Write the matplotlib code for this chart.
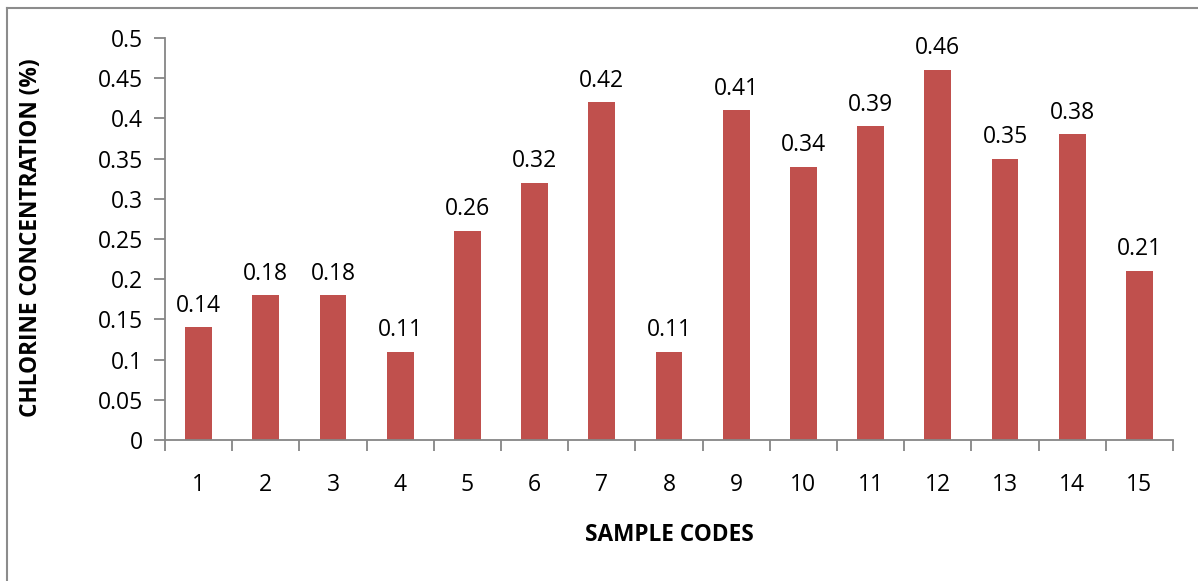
import matplotlib
matplotlib.use("Agg")
import matplotlib.pyplot as plt
from matplotlib.lines import Line2D

categories = [str(i) for i in range(1, 16)]
values = [0.14, 0.18, 0.18, 0.11, 0.26, 0.32, 0.42, 0.11, 0.41, 0.34, 0.39, 0.46, 0.35, 0.38, 0.21]
yticks = [0, 0.05, 0.1, 0.15, 0.2, 0.25, 0.3, 0.35, 0.4, 0.45, 0.5]
ytick_labels = ["0", "0.05", "0.1", "0.15", "0.2", "0.25", "0.3", "0.35", "0.4", "0.45", "0.5"]

plt.rcParams['font.family'] = ['Open Sans', 'DejaVu Sans']

FS = 16.5
W, H = 1198, 581
fig = plt.figure(figsize=(W / 100, H / 100), dpi=100)
ax = fig.add_axes([165 / W, 1 - 440 / H, (1173 - 165) / W, (440 - 38) / H])

x = list(range(len(categories)))
ax.bar(x, values, width=0.4, color="#C0504D", zorder=2)
for xi, v in zip(x, values):
    ax.annotate(f"{v:g}", (xi, v), xytext=(0, 7), textcoords="offset points",
                ha="center", va="bottom", fontsize=FS, color="black")

ax.set_xlim(-0.5, len(categories) - 0.5)
ax.set_ylim(0, 0.5)
ax.set_yticks(yticks)
ax.set_yticklabels(ytick_labels, fontsize=FS)
ax.set_xticks(x)
ax.set_xticklabels(categories, fontsize=FS)
ax.tick_params(axis="x", length=0, pad=24)
ax.set_xticks([i - 0.5 for i in range(len(categories) + 1)], minor=True)
ax.tick_params(axis="x", which="minor", length=8, width=1.3, color="#868686", direction="out")
ax.tick_params(axis="y", length=8, width=1.3, color="#868686", direction="out", pad=8)

for s in ["top", "right"]:
    ax.spines[s].set_visible(False)
for s in ["left", "bottom"]:
    ax.spines[s].set_color("#868686")
    ax.spines[s].set_linewidth(1.3)

fig.text(669 / W, 1 - 535 / H, "SAMPLE CODES", ha="center", va="center",
         fontsize=16.3, fontweight="bold")
fig.text(31 / W, 1 - 238 / H, "CHLORINE CONCENTRATION (%)", ha="center", va="center",
         rotation=90, fontsize=16.3, fontweight="bold")

# outer chart frame (top and left edges visible)
fig.add_artist(Line2D([7 / W, 7 / W], [0, 1 - 7.5 / H], transform=fig.transFigure,
                      color="#8C8C8C", linewidth=1.5))
fig.add_artist(Line2D([7 / W, 1], [1 - 7.5 / H, 1 - 7.5 / H], transform=fig.transFigure,
                      color="#8C8C8C", linewidth=1.5))

fig.savefig("out.png", dpi=100, facecolor="white")
